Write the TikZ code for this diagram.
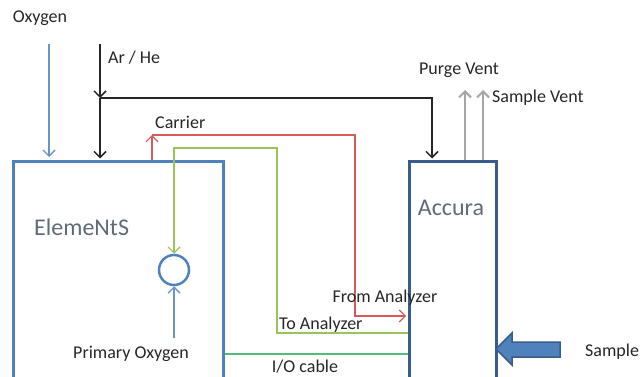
\documentclass[tikz,border=0pt]{standalone}
\usepackage{fontspec}
\setmainfont{Carlito}
\usetikzlibrary{arrows.meta}

\definecolor{box_blue}{RGB}{79,129,189}
\definecolor{box_dark}{RGB}{56,93,138}
\definecolor{line_red}{RGB}{217,90,90}
\definecolor{line_green}{RGB}{155,195,90}
\definecolor{cable_green}{RGB}{80,190,120}
\definecolor{vent_grey}{RGB}{166,166,166}
\definecolor{label_grey}{RGB}{38,38,38}
\definecolor{title_grey}{RGB}{95,107,122}

\begin{document}
\begin{tikzpicture}[
    x=1pt, y=-1pt,
    every node/.style={font=\fontsize{18}{20}\selectfont, text=label_grey, inner sep=1pt},
    >={Straight Barb[length=6pt, width=12pt]},
% Block styles
    unit/.style={rectangle, draw=box_blue, line width=3pt, minimum width=210pt, minimum height=240pt, anchor=north west},
    accbox/.style={rectangle, draw=box_dark, line width=3pt, minimum width=87pt, minimum height=240pt, anchor=north west},
    valve/.style={circle, draw=box_blue, line width=2.5pt, minimum size=30pt, inner sep=0pt},
    title/.style={font=\fontsize{24}{28}\selectfont, text=title_grey},
% Line styles
    gas/.style={->, line width=1.5pt, label_grey},
    oxy/.style={->, line width=1.3pt, box_blue!85},
    carrier/.style={->, line width=1.2pt, line_red},
    ana/.style={->, line width=1.2pt, line_green},
    vent/.style={->, line width=2pt, vent_grey}
]
\useasboundingbox (0,0) rectangle (642,377);

% 1. The two units
\node[unit] (elements) at (12,160) {};
\node[title, anchor=west] (elementslabel) at (33,227) {ElemeNtS};
\node[accbox] (accura) at (408,160) {};
\node[title] (accuralabel) at (451,208) {Accura};
\node[valve] (valve) at (174,270) {};

% 2. Gas supply
\node (oxygen) at (40,18) {Oxygen};
\coordinate (oxyin) at (49,44);
\draw[oxy, shorten >=3pt] (oxyin) -- (oxyin |- elements.north);

\coordinate (arin) at (100,44);
\coordinate (split) at (100,98);
\node[anchor=west] (arhe) at (107,58) {Ar / He};
\draw[gas] (arin) -- (split);
\draw[gas, shorten >=1.5pt] (split) -- (split |- elements.north);
\draw[gas, shorten >=1.5pt] (split) -| ([xshift=24pt]accura.north west);

% 3. Vents
\draw[vent] ([xshift=57pt]accura.north west) -- ++(0,-70) coordinate (purgetop);
\draw[vent] ([xshift=75pt]accura.north west) -- ++(0,-70) coordinate (sampletop);
\node (purge) at (459,70) {Purge Vent};
\node[anchor=west] (samplevent) at (491,98) {Sample Vent};

% 4. Carrier out and back from the analyzer
\coordinate (carriertop) at (152,135);
\coordinate (fromturn) at (355,316);
\draw[carrier] ([xshift=140pt]elements.north west) -- (carriertop);
\draw[carrier, shorten >=2pt] (carriertop) -| (fromturn) -- (accura.west |- fromturn);
\node[anchor=west] (carrierlabel) at (154,122) {Carrier};
\node (fromlabel) at (385,298) {From Analyzer};

% 5. To analyzer, into the valve
\coordinate (toturn) at (277,148);
\coordinate (torow) at (300,333);
\draw[ana] (accura.west |- torow) -| (toturn) -| (valve.north);
\node[anchor=west] (tolabel) at (278,325) {To Analyzer};

\coordinate (primin) at (174,338);
\draw[oxy] (primin) -- (valve.south);
\node (primary) at (131,354) {Primary Oxygen};

% 6. I/O cable
\coordinate (iorow) at (300,354);
\draw[line width=1.2pt, cable_green] (elements.east |- iorow) -- (accura.west |- iorow);
\node (iolabel) at (305,367) {I/O cable};

% 7. Sample inlet
\draw[fill=box_blue, draw=box_dark, line width=1.5pt, line join=miter]
    (496,349) -- (512,333) -- (512,342) -- (560,342) -- (560,357) -- (512,357) -- (512,365) -- cycle;
\node[anchor=west] (sample) at (584,352) {Sample};

\end{tikzpicture}
\end{document}
